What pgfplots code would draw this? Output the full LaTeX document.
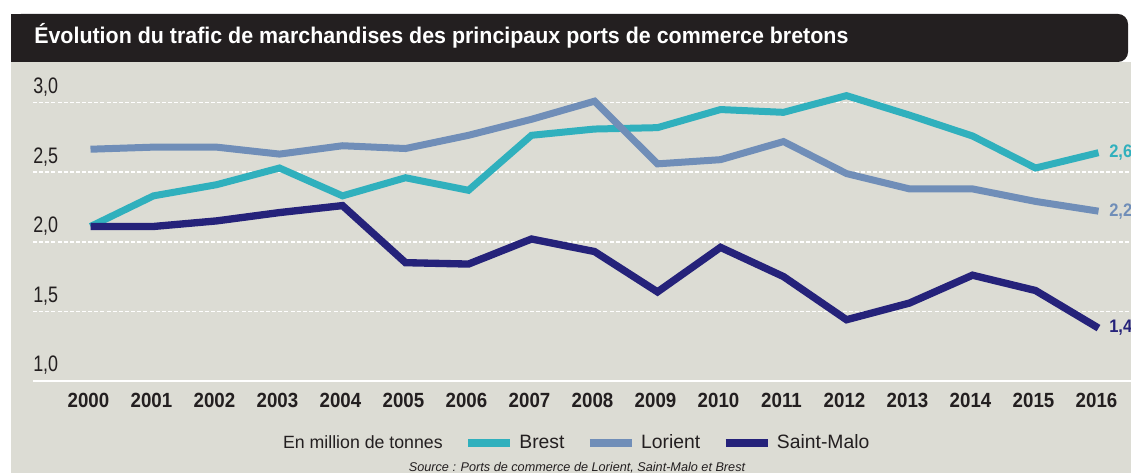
\documentclass[border=0pt]{standalone}
\usepackage{fontspec}
\usepackage{pgfplots}
\pgfplotsset{compat=1.18}
\setmainfont{Liberation Sans}
\newfontfamily\titlefont[FakeStretch=0.945]{Liberation Sans Bold}
\newfontfamily\tickfont[FakeStretch=0.8]{Liberation Sans}
\newfontfamily\yearfont[FakeStretch=0.91]{Liberation Sans Bold}
\newfontfamily\legfont{Liberation Sans}
\newfontfamily\srcfont{Liberation Sans Italic}
\definecolor{brest}{HTML}{30B0BD}
\definecolor{lorient}{HTML}{708EB8}
\definecolor{stmalo}{HTML}{25227A}
\definecolor{panel}{HTML}{DCDCD4}
\definecolor{titlebar}{HTML}{231F20}
\definecolor{textc}{HTML}{231F20}
\newcommand\lgbig{\fontsize{14.5}{16}\selectfont}
\begin{document}
\begin{tikzpicture}[x=0.75pt,y=0.75pt]
\fill[white] (0,0) rectangle (1131,473);
\fill[panel] (11,0) rectangle (1131,411);
\fill[titlebar, rounded corners=7.5pt] (11,411) rectangle (1128,459);
\fill[titlebar] (11,411) rectangle (1100,440);
\fill[titlebar] (11,411) rectangle (60,459);
\node[anchor=base west, inner sep=0pt, text=white, font=\titlefont\fontsize{17}{20}\selectfont] at (34,429.7) {Évolution du trafic de marchandises des principaux ports de commerce bretons};
\begin{axis}[
  at={(24.75pt,69pt)}, anchor=south west,
  scale only axis, width=823.5pt, height=239.25pt,
  xmin=1999.0873, xmax=2016.5159, ymin=1, ymax=3.2917,
  axis line style={draw=none}, tick style={draw=none},
  clip=false,
  xtick={2000,2001,2002,2003,2004,2005,2006,2007,2008,2009,2010,2011,2012,2013,2014,2015,2016},
  xticklabels={2000,2001,2002,2003,2004,2005,2006,2007,2008,2009,2010,2011,2012,2013,2014,2015,2016},
  xticklabel style={anchor=center, inner sep=0pt, yshift=-14.25pt, xshift=-1.5pt, text=textc, font=\yearfont\fontsize{15.4}{16}\selectfont},
  ytick={1,1.5,2,2.5,3},
  yticklabel style={anchor=west, inner sep=0pt, yshift=11.6pt, text=textc, font=\tickfont\fontsize{16.8}{18}\selectfont,
    /pgf/number format/.cd, fixed, fixed zerofill, precision=1, use comma, assume math mode=true},
  ymajorgrids,
  grid style={white, line width=1.1pt, dash pattern=on 3pt off 1.6pt},
  legend columns=4,
  legend style={at={(0.2277,-0.194)}, anchor=west, xshift=-4pt, draw=none, fill=none, inner sep=0pt, outer sep=0pt,
    nodes={inner sep=0pt, text=textc, font=\legfont\fontsize{13.3}{15}\selectfont},
    /tikz/every even column/.append style={column sep=16pt},
    /tikz/every odd column/.append style={column sep=4pt}},
  legend cell align=left,
  legend image code/.code={\draw[#1, line width=6pt] (0pt,0pt) -- (31.5pt,0pt);},
  legend entries={En million de tonnes, {\lgbig Brest}, {\lgbig Lorient}, {\lgbig Saint-Malo}},
]
\addlegendimage{empty legend}
\draw[white, line width=1.5pt] (rel axis cs:0,0) -- (rel axis cs:1,0);
\addplot[brest, line width=5.25pt] coordinates {
(2000,2.11) (2001,2.33) (2002,2.41) (2003,2.53) (2004,2.33) (2005,2.46) (2006,2.37) (2007,2.765) (2008,2.81) (2009,2.82) (2010,2.95) (2011,2.93) (2012,3.05) (2013,2.91) (2014,2.76) (2015,2.53) (2016,2.64)};
\addplot[lorient, line width=5.25pt] coordinates {
(2000,2.665) (2001,2.68) (2002,2.68) (2003,2.63) (2004,2.69) (2005,2.67) (2006,2.765) (2007,2.88) (2008,3.01) (2009,2.56) (2010,2.59) (2011,2.72) (2012,2.49) (2013,2.38) (2014,2.38) (2015,2.29) (2016,2.22)};
\addplot[stmalo, line width=5.5pt] coordinates {
(2000,2.11) (2001,2.11) (2002,2.15) (2003,2.21) (2004,2.26) (2005,1.85) (2006,1.84) (2007,2.02) (2008,1.93) (2009,1.64) (2010,1.96) (2011,1.75) (2012,1.44) (2013,1.56) (2014,1.76) (2015,1.65) (2016,1.38)};
\node[anchor=west, inner sep=0pt, xshift=7.9pt, text=brest, font=\yearfont\fontsize{13.6}{15}\selectfont] at (axis cs:2016,2.64) {2,6};
\node[anchor=west, inner sep=0pt, xshift=7.9pt, text=lorient, font=\yearfont\fontsize{13.6}{15}\selectfont] at (axis cs:2016,2.22) {2,2};
\node[anchor=west, inner sep=0pt, xshift=7.9pt, text=stmalo, font=\yearfont\fontsize{13.6}{15}\selectfont] at (axis cs:2016,1.38) {1,4};
\end{axis}
\node[anchor=center, inner sep=0pt, text=textc, font=\srcfont\fontsize{9.5}{11}\selectfont] at (577,5) {Source : Ports de commerce de Lorient, Saint-Malo et Brest};
\pgfresetboundingbox
\useasboundingbox (0,0) rectangle (1131,473);
\end{tikzpicture}
\end{document}
